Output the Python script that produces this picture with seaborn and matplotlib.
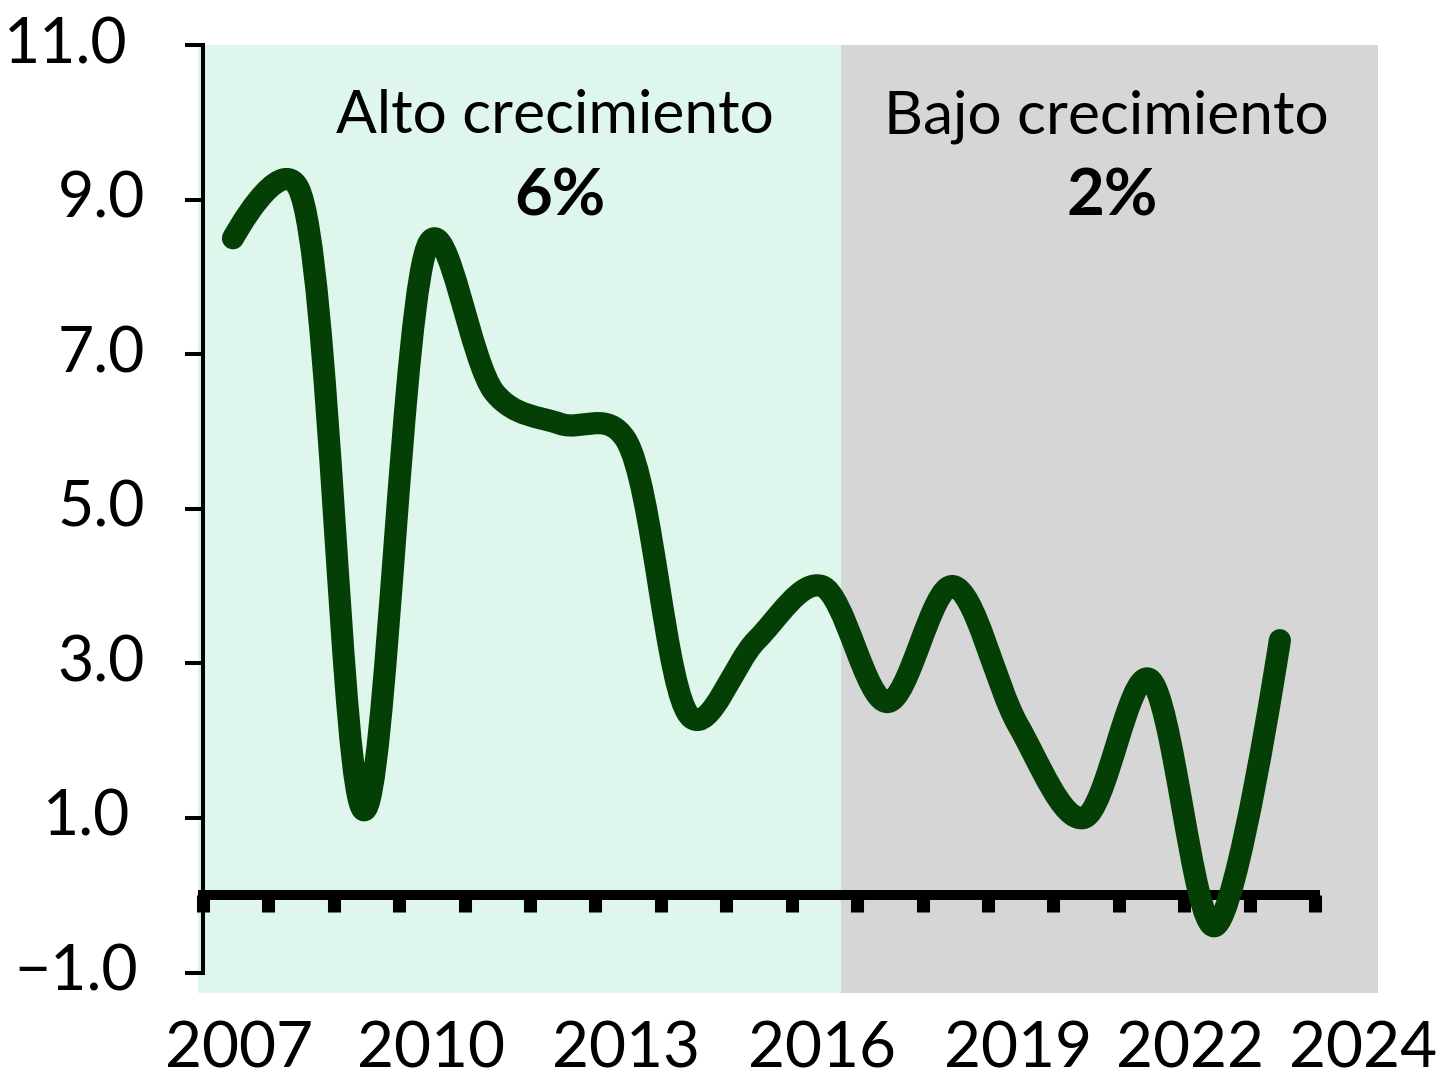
import numpy as np
import matplotlib
matplotlib.use("Agg")
import matplotlib.pyplot as plt
import matplotlib.transforms as mtransforms
from matplotlib.path import Path
from matplotlib.patches import PathPatch
import seaborn as sns

# Datos: crecimiento anual (%), un punto por periodo
crecimiento = [8.5, 9.15, 1.1, 8.45, 6.5, 6.1, 5.9, 2.3, 3.3, 4.0,
               2.5, 4.0, 2.2, 1.0, 2.8, -0.4, 3.3]
etiquetas_x = ["2007", "2010", "2013", "2016", "2019", "2022", "2024"]
etiquetas_y = [-1.0, 1.0, 3.0, 5.0, 7.0, 9.0, 11.0]
periodos = ["Alto crecimiento", "Bajo crecimiento"]
promedios = ["6%", "2%"]

# Posiciones (índice de punto) de las etiquetas de años
pos_x = [0.10, 3.03, 6.0, 9.0, 12.0, 14.62, 17.27]
# Borde derecho (px) de las etiquetas del eje y
borde_y = [138, 130, 145, 145, 145, 145, 128]

sns.set_theme(style="white")
plt.rcParams["font.family"] = ["Lato", "DejaVu Sans"]

W, H = 1445, 1080
fig = plt.figure(figsize=(W / 100, H / 100), dpi=100)
ax = fig.add_axes([198 / W, 1 - 993 / H, (1378 - 198) / W, (993 - 45) / H])
ax.set_facecolor("none")

x = np.arange(len(crecimiento))
ax.set_xlim(-0.535, 17.5)
ax.set_ylim(-1.264, 11)

# Fondos de los dos periodos
corte = 9.29
ax.axvspan(-0.535, corte, color="#dff6ed", lw=0, zorder=0)
ax.axvspan(corte, 17.5, color="#d6d6d6", lw=0, zorder=0)


def catmull_rom(px, py, sx, sy, alpha=0.25):
    """Curva Catmull-Rom (en escala de pantalla) dibujada como Bézier."""
    P = np.column_stack([np.asarray(px) * sx, np.asarray(py) * sy])
    n = len(P)
    verts = [P[0]]
    codes = [Path.MOVETO]
    for i in range(n - 1):
        p1, p2 = P[i], P[i + 1]
        l12 = np.hypot(*(p2 - p1))
        l12_2a, l12_a = l12 ** (2 * alpha), l12 ** alpha
        c1, c2 = p1.copy(), p2.copy()
        if i > 0:
            p0 = P[i - 1]
            l01 = np.hypot(*(p1 - p0))
            l01_2a, l01_a = l01 ** (2 * alpha), l01 ** alpha
            a = 2 * l01_2a + 3 * l01_a * l12_a + l12_2a
            m = 3 * l01_a * (l01_a + l12_a)
            c1 = (p1 * a - p0 * l12_2a + p2 * l01_2a) / m
        if i < n - 2:
            p3 = P[i + 2]
            l23 = np.hypot(*(p3 - p2))
            l23_2a, l23_a = l23 ** (2 * alpha), l23 ** alpha
            b = 2 * l23_2a + 3 * l23_a * l12_a + l12_2a
            m = 3 * l23_a * (l23_a + l12_a)
            c2 = (p2 * b + p1 * l23_2a - p3 * l12_2a) / m
        verts += [c1, c2, p2]
        codes += [Path.CURVE4] * 3
    verts = np.array(verts) / [sx, sy]
    return Path(verts, codes)


# Línea suavizada (escala aproximada en píxeles por unidad)
ruta = catmull_rom(x, crecimiento, 65.44, 77.3)
ax.add_patch(PathPatch(ruta, fill=False, edgecolor="#044005", lw=16,
                       capstyle="round", joinstyle="round", zorder=4))

# Ejes
sns.despine(ax=ax)
ax.spines["left"].set_position(("data", -0.46))
ax.spines["left"].set_bounds(-1, 11)
ax.spines["left"].set_linewidth(2.9)
ax.spines["left"].set_color("black")
ax.spines["bottom"].set_position(("data", 0))
ax.spines["bottom"].set_bounds(-0.46, 16.54)
ax.spines["bottom"].set_linewidth(7.2)
ax.spines["bottom"].set_color("black")
ax.spines["bottom"].set_zorder(3)

ax.set_yticks(etiquetas_y)
ax.tick_params(axis="y", length=13, width=2.9, color="black",
               direction="out", labelleft=False, left=True)
ax.set_xticks(np.arange(18) - 0.46)
ax.tick_params(axis="x", length=12, width=9.4, color="black",
               direction="out", labelbottom=False, bottom=True)

# Etiquetas del eje y
ty = mtransforms.blended_transform_factory(fig.transFigure, ax.transData)
for v, px in zip(etiquetas_y, borde_y):
    ax.text(px / W, v, f"{v:.1f}".replace("-", "\u2212"), transform=ty,
            ha="right", va="center", fontsize=45, color="black")

# Etiquetas del eje x
tx = mtransforms.blended_transform_factory(ax.transData, fig.transFigure)
for lab, p in zip(etiquetas_x, pos_x):
    ax.text(p, 1 - 1050 / H, lab, transform=tx, ha="center", va="center",
            fontsize=46, color="black")

# Anotaciones de cada periodo
for xc, nombre, prom in zip([4.92, 13.35], periodos, promedios):
    ax.text(xc, 9.86, nombre, ha="center", va="baseline", fontsize=43.5,
            color="black", zorder=5)
    ax.text(xc + 0.08, 8.80, prom, ha="center", va="baseline", fontsize=47,
            fontweight="bold", color="black", zorder=5)

fig.savefig("out.png", dpi=100)
